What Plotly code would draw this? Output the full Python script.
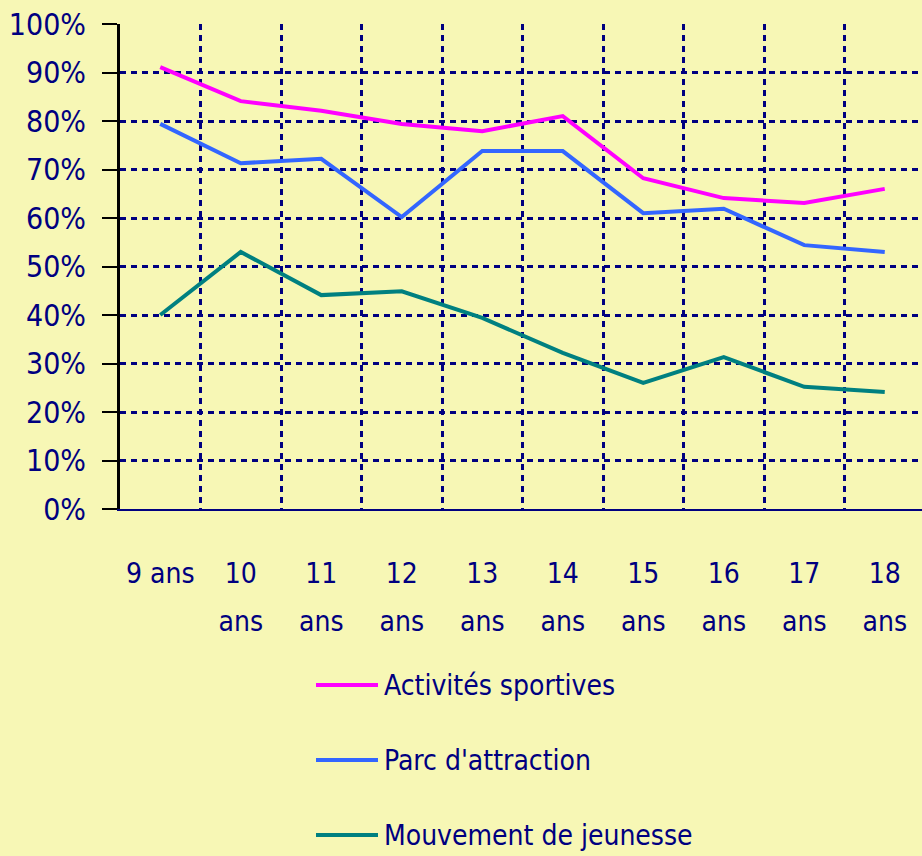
import plotly.graph_objects as go

# Age groups (x categories) and tick labels
ages = ["9 ans", "10 ans", "11 ans", "12 ans", "13 ans", "14 ans", "15 ans", "16 ans", "17 ans", "18 ans"]
age_top = ["9 ans", "10", "11", "12", "13", "14", "15", "16", "17", "18"]
age_bottom = ["", "ans", "ans", "ans", "ans", "ans", "ans", "ans", "ans", "ans"]

# Series values (percent)
sport = [91.1, 84.1, 82.1, 79.4, 77.9, 81.0, 68.2, 64.1, 63.1, 66.0]
parc = [79.4, 71.3, 72.2, 60.2, 73.8, 73.8, 61.0, 61.9, 54.4, 53.0]
jeunesse = [40.0, 53.0, 44.1, 44.9, 39.4, 32.2, 26.0, 31.3, 25.2, 24.1]

series_names = ["Activités sportives", "Parc d'attraction", "Mouvement de jeunesse"]
series_values = [sport, parc, jeunesse]
series_colors = ["#FF00FF", "#3366FF", "#008080"]

bg = "#F7F7B5"
navy = "#000080"
font_family = "Liberation Sans Narrow, DejaVu Sans Condensed, sans-serif"

W, H = 922, 856
left, top, bottom = 120, 24, 509
plot_w = W - left

fig = go.Figure()

for name, vals, col in zip(series_names, series_values, series_colors):
    fig.add_trace(go.Scatter(
        x=ages, y=vals, mode="lines", name=name,
        line=dict(color=col, width=4),
        showlegend=False
    ))

n = len(ages)
# empty trace so the second x axis (label line "ans") gets drawn
fig.add_trace(go.Scatter(x=list(range(n)), y=[None] * n, xaxis="x2", yaxis="y",
                         mode="lines", showlegend=False, hoverinfo="skip"))

# manual legend (long line samples like the original)
def px_x(p):
    return (p - left) / plot_w

def px_y(p):
    return (bottom - p) / (bottom - top)

for i, (name, col) in enumerate(zip(series_names, series_colors)):
    yy = 685 + 75 * i
    fig.add_shape(type="line", xref="paper", yref="paper",
                  x0=px_x(316), x1=px_x(378), y0=px_y(yy), y1=px_y(yy),
                  line=dict(color=col, width=4))
    fig.add_annotation(xref="paper", yref="paper", x=px_x(382), y=px_y(yy),
                       text=name, showarrow=False, xanchor="left", yanchor="middle",
                       font=dict(family=font_family, size=28, color=navy))

xrange_ = [-0.5, n - 0.5 - 3 / 80.5]
fig.update_layout(
    width=W, height=H,
    margin=dict(l=left, r=0, t=top, b=H - bottom),
    paper_bgcolor=bg, plot_bgcolor=bg,
    font=dict(family=font_family, color=navy),
    xaxis=dict(
        type="category", range=xrange_,
        tickmode="array", tickvals=ages, ticktext=age_top,
        tickson="boundaries", ticks="", tickangle=0,
        showgrid=True, gridcolor=navy, gridwidth=2.5, griddash="6px,5px",
        showline=True, linecolor=navy, linewidth=2,
        tickfont=dict(size=28, color=navy), ticklabelstandoff=38,
        zeroline=False,
    ),
    # second line of the age labels ("ans"), spaced like the original
    xaxis2=dict(
        overlaying="x", anchor="y", side="bottom", range=xrange_,
        tickmode="array", tickvals=list(range(n)), ticktext=age_bottom,
        ticks="", tickangle=0, showgrid=False, showline=False, zeroline=False,
        tickfont=dict(size=28, color=navy), ticklabelstandoff=93,
    ),
    yaxis=dict(
        range=[0, 100], tickmode="linear", tick0=0, dtick=10, ticksuffix="%",
        showgrid=True, gridcolor=navy, gridwidth=2.5, griddash="6px,5px",
        showline=True, linecolor="black", linewidth=3,
        ticks="outside", ticklen=15, tickwidth=2, tickcolor="black",
        tickfont=dict(size=30, color=navy), ticklabelstandoff=10,
        zeroline=False,
    ),
)

fig.write_html("out.html", config={"displayModeBar": False},
               post_script="document.body.style.margin='0';")
